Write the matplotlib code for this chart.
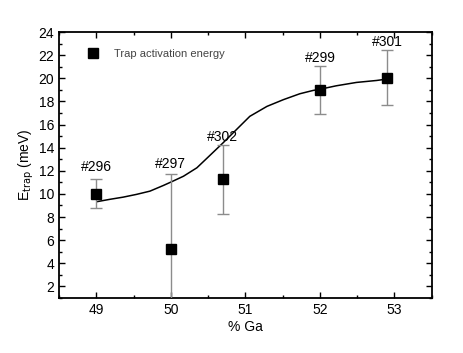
import matplotlib

matplotlib.use("Agg")

import matplotlib.pyplot as plt
from matplotlib.ticker import MultipleLocator

# Measured trap activation energies
ga_pct = [49.0, 50.0, 50.7, 52.0, 52.9]
e_trap = [10.0, 5.2, 11.25, 19.0, 20.05]
e_err = [1.25, 6.5, 3.0, 2.1, 2.4]
sample_ids = ["#296", "#297", "#302", "#299", "#301"]
label_y = [12.3, 12.6, 14.9, 21.75, 23.1]

# Fit curve
fit_x = [49.01, 49.18, 49.36, 49.54, 49.72, 49.90, 50.01, 50.17, 50.35,
         50.50, 50.70, 50.88, 51.06, 51.29, 51.51, 51.73, 51.91, 52.0,
         52.22, 52.49, 52.76, 52.90]
fit_y = [9.33, 9.53, 9.72, 9.96, 10.24, 10.73, 11.05, 11.53, 12.26,
         13.18, 14.41, 15.56, 16.71, 17.57, 18.15, 18.66, 18.95, 19.05,
         19.35, 19.64, 19.81, 19.93]

plt.rcParams["font.family"] = ["Liberation Sans", "DejaVu Sans"]

fig = plt.figure(figsize=(4.63, 3.53), dpi=100)
ax = fig.add_axes([0.1274, 0.1558, 0.805, 0.7535])

ax.plot(fit_x, fit_y, color="black", lw=1.1, zorder=2)
ax.errorbar(ga_pct, e_trap, yerr=e_err, fmt="s", color="black", ms=6.5,
            ecolor="#8c8c8c", elinewidth=1.0, capsize=4.5, capthick=1.0,
            zorder=3)
# legend entry shows only the square marker
ax.plot([], [], "s", color="black", ms=6.5, label="Trap activation energy")

for x, y, s in zip(ga_pct, label_y, sample_ids):
    ax.text(x, y, s, ha="center", va="center", fontsize=10)

ax.set_xlim(48.5, 53.5)
ax.set_ylim(1, 24)
ax.xaxis.set_major_locator(MultipleLocator(1))
ax.xaxis.set_minor_locator(MultipleLocator(0.5))
ax.yaxis.set_major_locator(MultipleLocator(2))
ax.yaxis.set_minor_locator(MultipleLocator(1))
ax.tick_params(which="both", direction="in", top=True, right=True,
               labelsize=10, width=1.0)
ax.tick_params(which="major", length=4)
ax.tick_params(which="minor", length=2)
for sp in ax.spines.values():
    sp.set_linewidth(1.3)

ax.set_xlabel("% Ga", fontsize=10, labelpad=2)
ax.set_ylabel(r"E$_{\mathrm{trap}}$ (meV)", fontsize=10, labelpad=2)

ax.legend(loc="upper left", bbox_to_anchor=(0.05, 0.975), frameon=False,
          fontsize=8, handletextpad=1.4, labelcolor="#444444",
          handlelength=1.0)

fig.savefig("out.png", dpi=100)
